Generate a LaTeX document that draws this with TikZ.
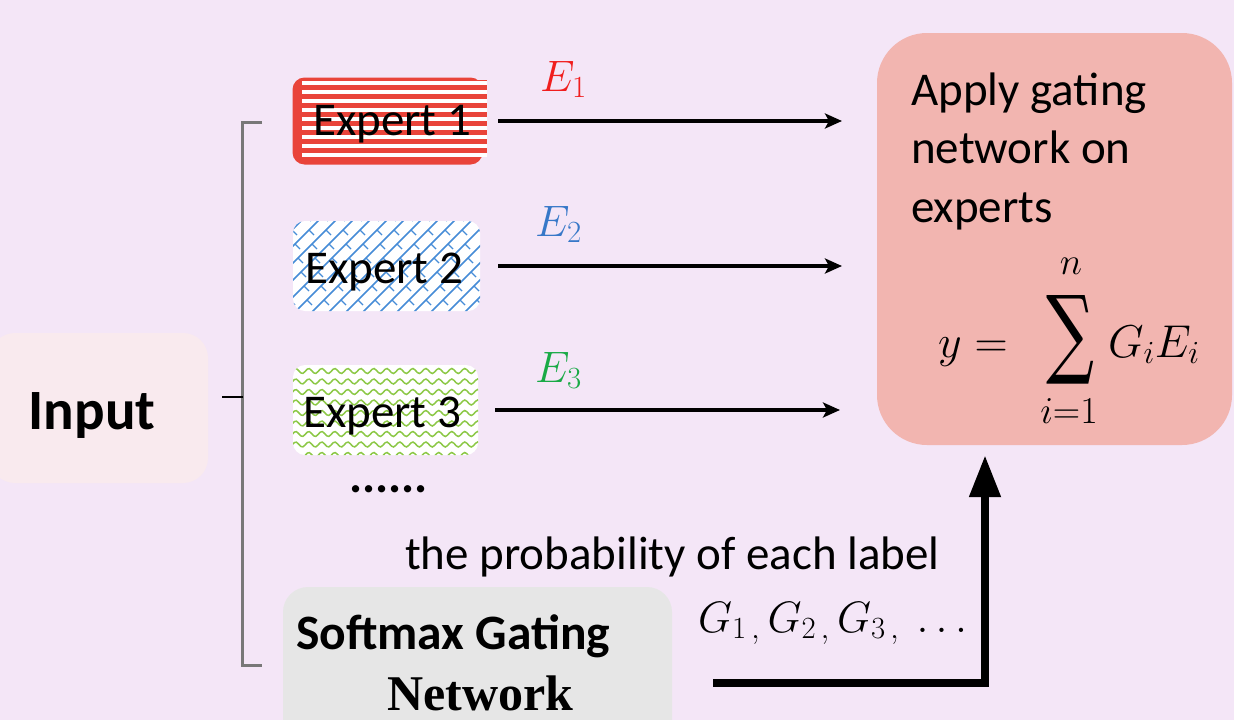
\RequirePackage{fix-cm}
\documentclass[tikz,border=0pt]{standalone}
\usepackage[no-math]{fontspec}
\setmainfont{Carlito}
\newfontfamily\netfont{Liberation Serif}
\newfontfamily\sumfont{DejaVu Serif}
\usepackage{graphicx}
\usetikzlibrary{arrows.meta}
\definecolor{bgc}{RGB}{244,230,247}
\definecolor{inc}{RGB}{249,234,238}
\definecolor{outc}{RGB}{242,181,176}
\definecolor{smc}{RGB}{230,230,230}
\definecolor{expred}{RGB}{233,68,58}
\definecolor{patblue}{RGB}{70,140,215}
\definecolor{patgreen}{RGB}{140,200,70}
\definecolor{eonec}{RGB}{240,30,30}
\definecolor{etwoc}{RGB}{55,120,200}
\definecolor{ethreec}{RGB}{25,170,70}
\definecolor{brkc}{RGB}{120,120,120}
\begin{document}
\begin{tikzpicture}[x=1pt,y=-1pt,
  txt/.style={font=\fontsize{47}{56}\selectfont, inner sep=0pt, anchor=base west},
  boldtxt/.style={font=\fontsize{49.5}{58}\selectfont\bfseries, inner sep=0pt, anchor=base west},
  mathtxt/.style={font=\fontsize{44}{52}\selectfont, inner sep=0pt},
  limtxt/.style={font=\fontsize{38}{42}\selectfont, inner sep=0pt},
  boxshape/.style={inner sep=0pt, draw=none},
  arr/.style={line width=4pt, -{Stealth[length=17pt,width=15pt,inset=4pt]}},
  gate/.style={line width=8pt, line join=miter, -{Triangle[length=42pt,width=30pt]}},
  brk/.style={brkc, line width=3pt}]
\useasboundingbox (0,0) rectangle (1234,720);
\clip (0,0) rectangle (1234,720);
\fill[bgc] (0,0) rectangle (1234,720);

% Input
\node[boxshape, fill=inc, rounded corners=25pt, minimum width=218pt, minimum height=150pt] (inp) at (99,408) {};
\node[font=\fontsize{57}{66}\selectfont\bfseries, inner sep=0pt, anchor=base] (inlbl) at (92,429) {Input};

% bracket
\draw[brk] (262,122) -- (242,122) -- (242,665) -- (262,665);
\coordinate (bm) at (243,397);
\draw[black, line width=2.5pt] (bm) -- ++(-21,0);

% Expert 1
\node[boxshape, fill=expred, rounded corners=12pt, minimum width=190pt, minimum height=87pt] (e1) at (387.5,121) {};
\fill[expred] (302,80) rectangle (487,157);
\foreach \j in {0,...,8} \fill[white] (302,{81+\j*9}) rectangle (487,{85+\j*9});
\node[txt] (t1) at (313,135) {Expert 1};

% Expert 2
\node[boxshape, fill=white, rounded corners=12pt, minimum width=187pt, minimum height=90pt] (e2) at (386.5,266) {};
\begin{scope}
\clip[rounded corners=12pt] (293,221) rectangle (480,311);
\foreach \k in {-7,...,12} {
  \draw[patblue, line width=1.6pt] ({293+(\k)*17},314) -- ++(100,-100);
  \foreach \t in {0,...,7} \draw[patblue, line width=1.4pt] ({293+(\k)*17+(\t)*14},{314-(\t)*14}) -- ++(5,5);
}
\end{scope}
\node[txt] (t2) at (305,283) {Expert 2};

% Expert 3
\node[boxshape, fill=white, rounded corners=12pt, minimum width=185pt, minimum height=90pt] (e3) at (385.5,410) {};
\begin{scope}
\clip[rounded corners=12pt] (293,365) rectangle (478,455);
\foreach \j in {0,...,8} \draw[patgreen, line width=1.5pt] plot[domain=290:482, samples=90, smooth] (\x, {371+\j*10.5+2.5*sin(\x/13*360)});
\end{scope}
\node[txt] (t3) at (303,427) {Expert 3};

\node[font=\fontsize{49}{58}\selectfont\bfseries, inner sep=0pt, anchor=base west] (dots) at (349,492) {......};

% output box
\node[boxshape, fill=outc, rounded corners=50pt, minimum width=355pt, minimum height=412pt] (out) at (1054.5,239) {};
\node[txt] (ap1) at (911,105) {Apply gating};
\node[txt] (ap2) at (911,163) {network on};
\node[txt] (ap3) at (911,222) {experts};
% formula
\node[mathtxt, font=\fontsize{46}{54}\selectfont, anchor=base west] (fy) at (938,357) {$y=$};
\node[inner sep=0pt, font=\fontsize{80}{90}\sumfont] (fsum) at (1070,340) {\resizebox{48pt}{70pt}{∑}};
\node[limtxt] (fn) at (1071,266) {$n$};
\node[limtxt] (fi) at (1069,411) {$i{=}1$};
\node[mathtxt, font=\fontsize{46}{54}\selectfont, anchor=base west] (fge) at (1108,357) {$G_iE_i$};

% arrows
\coordinate (a1) at (842,121);
\coordinate (a2) at (842,266);
\coordinate (a3) at (840,410);
\draw[arr] ([xshift=15.5pt]e1.east) -- (a1);
\draw[arr] ([xshift=18pt]e2.east) -- (a2);
\draw[arr] ([xshift=17pt]e3.east) -- (a3);
\node[mathtxt, anchor=base west, text=eonec] (E1) at (540,91) {$E_1$};
\node[mathtxt, anchor=base west, text=etwoc] (E2) at (535,236) {$E_2$};
\node[mathtxt, anchor=base west, text=ethreec] (E3) at (535,382) {$E_3$};

% softmax
\node[boxshape, fill=smc, rounded corners=25pt, minimum width=389pt, minimum height=160pt] (sm) at (477.5,667) {};
\node[boldtxt] (sm1) at (296,649) {Softmax Gating};
\node[font=\fontsize{50}{58}\selectfont\netfont\bfseries, inner sep=0pt, anchor=base west] (sm2) at (387,710) {Network};

\node[txt] (prob) at (405,569) {the probability of each label};
\node[mathtxt, anchor=base west] (glbl) at (698,632) {$G_{1\,,}\,G_{2\,,}\,G_{3\,,}\ \ldots$};

\coordinate (gs) at (713,683);
\draw[gate, shorten >=10pt] (gs) -| ([xshift=-69.5pt]out.south);
\end{tikzpicture}
\end{document}
